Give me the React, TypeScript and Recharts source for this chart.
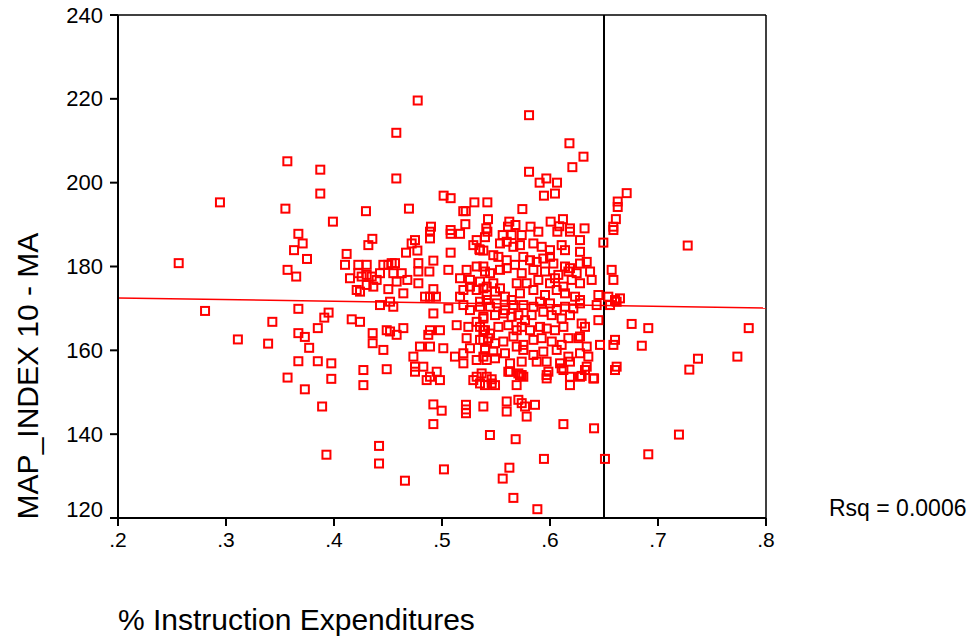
import {
  ReferenceLine,
  Scatter,
  ScatterChart,
  XAxis,
  YAxis,
} from "recharts";

// % instruction expenditures vs MAP_INDEX 10 - MA
type Pt = [number, number];

const leftTail: Pt[] = [
  [0.2562, 180.8], [0.2806, 169.4], [0.2944, 195.3], [0.311, 162.6], [0.339, 161.6],
  [0.3429, 166.8], [0.355, 193.8], [0.3568, 205.1], [0.357, 179.2], [0.357, 153.5],
  [0.363, 183.9], [0.365, 177.6], [0.367, 187.8], [0.367, 169.9], [0.367, 164.1],
  [0.367, 157.4], [0.371, 185.5], [0.373, 163.2], [0.373, 150.7], [0.375, 181.8],
  [0.377, 160.6], [0.385, 165.3], [0.385, 157.4], [0.3873, 203.1], [0.3873, 197.4],
  [0.389, 146.6], [0.391, 167.8], [0.393, 135.1], [0.395, 169.0], [0.3975, 156.9],
  [0.3975, 153.2], [0.399, 190.7],
];

const upperCore: Pt[] = [
  [0.4775, 219.6], [0.4577, 211.9], [0.4577, 201.0], [0.4296, 193.2], [0.4694, 193.8],
  [0.5015, 196.9], [0.508, 196.3], [0.5197, 193.2], [0.522, 193.2], [0.53, 195.3],
  [0.542, 195.3], [0.5216, 190.1], [0.5426, 191.3], [0.4898, 189.5], [0.508, 188.7],
  [0.541, 189.1], [0.5806, 216.1], [0.618, 209.4], [0.631, 206.2], [0.6207, 203.7],
  [0.5806, 202.6], [0.5966, 201.0], [0.5904, 200.0], [0.6065, 200.0], [0.6046, 197.4],
  [0.5944, 196.9], [0.5744, 193.7], [0.5623, 190.7], [0.568, 189.9], [0.5611, 189.5],
  [0.6086, 189.6], [0.612, 191.3], [0.6006, 190.7], [0.582, 189.5], [0.6185, 189.1],
  [0.632, 189.1], [0.671, 197.5], [0.6627, 195.5], [0.6627, 194.2], [0.661, 191.3],
  [0.6586, 189.5],
];

const middleWest: Pt[] = [
  [0.4355, 186.6], [0.4318, 185.1], [0.4117, 183.0], [0.4102, 180.4], [0.4225, 180.4],
  [0.4303, 180.4], [0.4457, 180.4], [0.4534, 180.8], [0.4565, 180.8], [0.4503, 180.4],
  [0.4667, 183.3], [0.4719, 185.5], [0.475, 186.3], [0.4772, 183.8], [0.4781, 180.8],
  [0.492, 181.4], [0.4889, 186.7], [0.4889, 188.3], [0.508, 187.8], [0.5167, 187.8],
  [0.508, 183.3], [0.5321, 186.3], [0.5398, 187.0], [0.5346, 184.1], [0.529, 185.1],
  [0.5383, 183.8], [0.4148, 177.2], [0.4225, 178.4], [0.4256, 177.6], [0.4303, 178.0],
  [0.4349, 177.6], [0.4395, 176.8], [0.4426, 178.4], [0.4549, 178.4], [0.4627, 178.4],
  [0.4679, 176.8], [0.458, 176.4], [0.4781, 178.8], [0.4883, 178.8], [0.5059, 179.2],
  [0.5167, 177.2], [0.5228, 179.2], [0.5321, 180.0], [0.5398, 178.8], [0.5259, 176.8],
  [0.421, 174.4], [0.4241, 174.0], [0.4303, 175.6], [0.4364, 175.2], [0.4503, 174.6],
  [0.4642, 173.6], [0.4781, 176.0], [0.4843, 172.8], [0.492, 174.6], [0.4944, 172.8],
  [0.5198, 174.4], [0.5259, 175.2], [0.5321, 174.4], [0.5383, 174.8], [0.5167, 172.8],
  [0.4426, 170.8], [0.4519, 171.6], [0.4549, 170.4], [0.4889, 172.8], [0.5059, 170.0],
  [0.492, 168.8], [0.5198, 170.8], [0.5259, 169.6], [0.5352, 170.4], [0.5414, 172.0],
  [0.4164, 167.4], [0.4241, 166.8], [0.4488, 164.8], [0.4519, 164.5], [0.458, 163.7],
  [0.4642, 165.3], [0.4358, 164.1], [0.4358, 161.7], [0.4457, 160.1], [0.4873, 163.7],
  [0.4889, 164.8], [0.4981, 164.8], [0.4796, 160.9], [0.4889, 160.9], [0.5012, 160.5],
  [0.5136, 166.0], [0.5244, 165.6], [0.5228, 162.9], [0.5259, 160.5], [0.5321, 166.8],
  [0.5383, 167.6], [0.5383, 164.8], [0.5383, 162.5], [0.5398, 160.5], [0.4735, 158.5],
  [0.475, 156.1], [0.4827, 156.1], [0.512, 158.5], [0.5198, 159.3], [0.5198, 156.9],
  [0.5321, 157.7], [0.5383, 158.5], [0.4272, 155.3], [0.4488, 155.5], [0.4951, 154.9],
  [0.4889, 153.7], [0.5321, 153.7], [0.5414, 153.7],
];

const middleEast: Pt[] = [
  [0.542, 188.3], [0.5562, 187.5], [0.5645, 187.5], [0.5738, 187.5], [0.5892, 188.3],
  [0.6068, 188.3], [0.6185, 188.3], [0.6278, 186.3], [0.6587, 188.7],
  [0.5537, 185.5], [0.5599, 185.9], [0.5661, 184.7], [0.5722, 185.1], [0.5846, 185.5],
  [0.5923, 184.7], [0.6, 183.9], [0.6108, 185.1], [0.6139, 183.9], [0.6278, 183.5],
  [0.6494, 185.7],
  [0.5352, 183.9], [0.5475, 182.7], [0.5522, 182.3], [0.5599, 181.5], [0.5676, 180.4],
  [0.5753, 182.3], [0.5815, 181.5], [0.5877, 181.1], [0.5938, 181.9], [0.6, 182.3],
  [0.6031, 180.7], [0.6139, 180.0], [0.6185, 179.6], [0.6278, 180.7], [0.634, 181.1],
  [0.6371, 178.8],
  [0.5383, 180.0], [0.5445, 178.4], [0.5537, 179.2], [0.5599, 179.6], [0.5738, 178.4],
  [0.5846, 179.2], [0.5954, 178.8], [0.6077, 178.0], [0.617, 178.8], [0.6247, 178.4],
  [0.6571, 179.2], [0.6587, 176.8],
  [0.5352, 176.4], [0.5414, 175.2], [0.5475, 176.0], [0.5537, 174.8], [0.5692, 176.0],
  [0.5784, 176.0], [0.5892, 176.8], [0.6, 176.0], [0.6046, 177.2], [0.6124, 175.2],
  [0.6201, 176.8], [0.6278, 176.0], [0.6386, 176.8],
  [0.5414, 173.2], [0.5491, 174.0], [0.5583, 172.8], [0.5645, 172.0], [0.5722, 173.6],
  [0.5846, 174.4], [0.5954, 173.2], [0.6062, 174.4], [0.6139, 173.6], [0.6232, 172.8],
  [0.6278, 172.0], [0.6448, 173.2], [0.654, 172.8], [0.6602, 172.0], [0.6648, 172.4],
  [0.5352, 171.6], [0.5445, 170.4], [0.5506, 171.2], [0.5583, 169.6], [0.5661, 170.8],
  [0.5753, 170.8], [0.5846, 170.4], [0.5908, 171.6], [0.6, 171.2], [0.6062, 169.6],
  [0.6139, 170.4], [0.6216, 170.0], [0.6278, 171.2], [0.6432, 170.8], [0.6556, 170.8],
  [0.6617, 171.6],
  [0.5383, 168.0], [0.5491, 168.4], [0.5568, 168.8], [0.5645, 168.0], [0.5707, 168.4],
  [0.5769, 167.2], [0.583, 168.4], [0.5938, 169.2], [0.6016, 168.4], [0.6108, 167.6],
  [0.6185, 168.4], [0.6293, 166.4], [0.6448, 167.2], [0.6756, 166.3],
  [0.5352, 165.6], [0.5398, 164.8], [0.5445, 164.0], [0.5522, 165.6], [0.5614, 166.0],
  [0.5692, 164.8], [0.5738, 165.6], [0.5815, 164.8], [0.5908, 165.6], [0.5969, 165.2],
  [0.6046, 164.8], [0.6124, 165.6], [0.6278, 163.3], [0.6324, 165.6],
  [0.5352, 162.5], [0.5429, 162.9], [0.5491, 161.7], [0.5568, 162.1], [0.5661, 163.3],
  [0.5753, 161.3], [0.5846, 162.5], [0.5923, 162.9], [0.6016, 162.1], [0.6108, 161.3],
  [0.617, 162.9], [0.6262, 162.9], [0.634, 160.9], [0.6463, 161.3], [0.6587, 161.3],
  [0.6602, 162.5],
  [0.5398, 160.1], [0.5475, 159.7], [0.5583, 159.3], [0.5692, 160.9], [0.5753, 160.1],
  [0.5846, 158.9], [0.5938, 159.7], [0.6062, 160.1], [0.617, 158.5], [0.6278, 159.3],
  [0.6355, 158.5],
  [0.5414, 157.7], [0.5491, 158.1], [0.563, 156.9], [0.5738, 157.3], [0.5877, 157.3],
  [0.5969, 157.3], [0.6093, 156.9], [0.6185, 157.3], [0.634, 156.1], [0.6617, 156.1],
  [0.5367, 154.5], [0.546, 153.1], [0.5614, 154.9], [0.5722, 154.1], [0.5969, 154.1],
  [0.6108, 155.7], [0.6185, 153.7], [0.6278, 153.7], [0.6401, 153.3],
];

const lowerCore: Pt[] = [
  [0.475, 154.9], [0.4858, 152.9], [0.4981, 152.9], [0.4272, 151.7], [0.529, 152.9],
  [0.5398, 151.7], [0.492, 147.1], [0.4997, 145.6], [0.492, 142.4], [0.5222, 147.0],
  [0.5222, 145.9], [0.5222, 145.0], [0.5383, 146.6], [0.5444, 139.8], [0.4417, 137.2],
  [0.4417, 133.0], [0.5018, 131.6], [0.4657, 128.9],
  [0.5352, 152.1], [0.546, 152.1], [0.5491, 151.7], [0.563, 154.9], [0.5738, 154.1],
  [0.5707, 154.5], [0.5753, 153.7], [0.5691, 151.7], [0.5969, 153.3], [0.5985, 154.9],
  [0.6124, 155.3], [0.6185, 151.7], [0.6293, 153.9], [0.6324, 155.3], [0.6408, 153.3],
  [0.6602, 155.3], [0.5599, 147.8], [0.5599, 145.4], [0.5707, 148.2], [0.5738, 147.4],
  [0.5769, 146.6], [0.5784, 144.2], [0.5861, 147.0], [0.6124, 142.4], [0.6408, 141.4],
  [0.5682, 138.8], [0.5944, 134.1], [0.6509, 134.1], [0.5624, 132.0], [0.5562, 129.4],
  [0.5661, 124.8], [0.5883, 122.1],
];

const rightTail: Pt[] = [
  [0.7275, 185.0], [0.691, 165.3], [0.784, 165.3], [0.685, 161.1], [0.737, 158.0],
  [0.7735, 158.5], [0.729, 155.4], [0.7194, 139.9], [0.691, 135.2],
];

const xTicks = [0.2, 0.3, 0.4, 0.5, 0.6, 0.7, 0.8];
const yTicks = [120, 140, 160, 180, 200, 220, 240];
const cutoff = 0.65;
const fitLine = [
  { x: 0.2, y: 172.5 },
  { x: 0.8, y: 170.1 },
];
const rsqLabel = "Rsq = 0.0006";

const points = [...leftTail, ...upperCore, ...middleWest, ...middleEast, ...lowerCore, ...rightTail].map(
  ([x, y]) => ({ x, y })
);

const FONT = "'Liberation Sans', Arial, sans-serif";

const HollowSquare = (props: any) => (
  <rect
    x={props.cx - 4}
    y={props.cy - 4}
    width={8}
    height={8}
    fill="none"
    stroke="#ff0000"
    strokeWidth={2}
  />
);

const YTick = (props: any) => {
  const { x, y, payload } = props;
  return (
    <text
      x={x}
      y={payload.value === 120 ? y - 9 : y}
      textAnchor="end"
      dominantBaseline="central"
      fontFamily={FONT}
      fontSize={22}
      fill="#000"
    >
      {payload.value}
    </text>
  );
};

export default function App() {
  return (
    <div style={{ position: "absolute", left: 0, top: 0, width: 979, height: 641, background: "#fff" }}>
      <ScatterChart
        width={979}
        height={641}
        margin={{ top: 15, right: 213, bottom: 0, left: 0 }}
      >
        <XAxis
          type="number"
          dataKey="x"
          domain={[0.2, 0.8]}
          ticks={xTicks}
          allowDataOverflow
          height={123}
          tickSize={8}
          tickMargin={6}
          stroke="#000"
          strokeWidth={2}
          tick={{ fill: "#000", fontSize: 21, fontFamily: FONT }}
          tickFormatter={(v: number) => "." + Math.round(v * 10)}
        />
        <YAxis
          type="number"
          dataKey="y"
          domain={[120, 240]}
          ticks={yTicks}
          allowDataOverflow
          width={118}
          tickSize={8}
          tickMargin={7}
          stroke="#000"
          strokeWidth={2}
          tick={<YTick />}
        />
        <ReferenceLine y={240} stroke="#000" strokeWidth={1.5} />
        <ReferenceLine x={0.8} stroke="#000" strokeWidth={1.5} />
        <ReferenceLine x={cutoff} stroke="#000" strokeWidth={2} />
        <ReferenceLine segment={fitLine} stroke="#ff0000" strokeWidth={1.5} />
        <Scatter data={points} shape={<HollowSquare />} isAnimationActive={false} />
      </ScatterChart>
      <svg
        width={979}
        height={641}
        style={{ position: "absolute", left: 0, top: 0, pointerEvents: "none" }}
      >
        <text
          x={27}
          y={376}
          transform="rotate(-90 27 376)"
          textAnchor="middle"
          dominantBaseline="central"
          fontFamily={FONT}
          fontSize={30}
          fill="#000"
        >
          MAP_INDEX 10 - MA
        </text>
        <text x={118} y={630} fontFamily={FONT} fontSize={30} fill="#000">
          % Instruction Expenditures
        </text>
        <text x={829} y={516} fontFamily={FONT} fontSize={23} fill="#000">
          {rsqLabel}
        </text>
      </svg>
    </div>
  );
}
